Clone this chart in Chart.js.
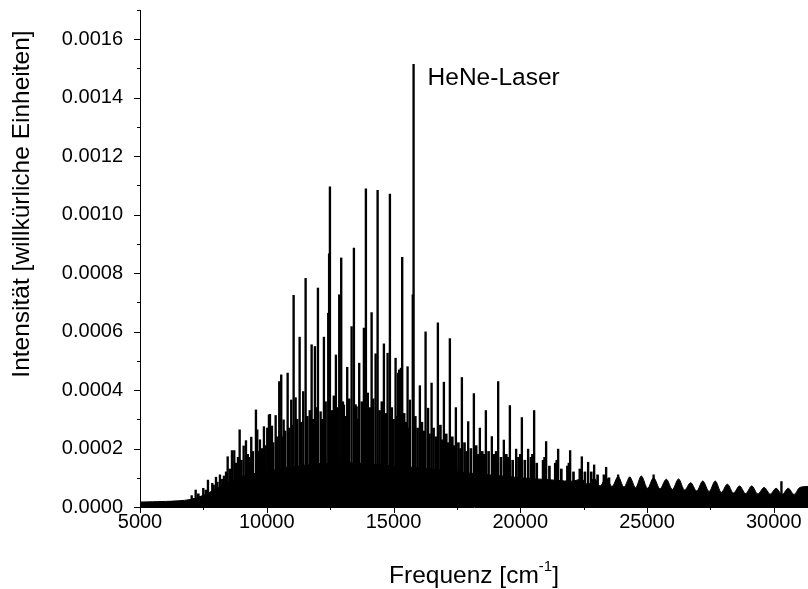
<!DOCTYPE html>
<html><head><meta charset="utf-8">
<script src="https://cdn.jsdelivr.net/npm/chart.js@4/dist/chart.umd.min.js"></script>
<style>html,body{margin:0;padding:0;background:#fff}</style>
</head><body>
<canvas id="c" width="808" height="589"></canvas>
<script>
// ---- Data ----
// Continuum (top edge of the solid black region), wavenumber in cm^-1
const baseX = [5000,5500,6000,6500,7000,7500,8000,8500,9000,9500,10000,10500,11000,11500,12000,12500,13000,13500,14000,14500,15000,15500,16000,16500,17000,17500,18000,18500,19000,19500,20000,20500,21000,21500,22000,22428,22670,22914,23150,23387,23620,23860,24090,24320,24550,24775,25020,25260,25510,25760,26000,26245,26480,26720,26960,27200,27450,27690,27930,28170,28410,28650,28890,29130,29370,29620,29860,30090,30330,30570,30800,31030,31350];
const baseY = [0.000017,0.000018,0.000019,0.000021,0.000026,0.000040,0.000062,0.000086,0.000104,0.000114,0.000121,0.000130,0.000138,0.000143,0.000148,0.000150,0.000152,0.000150,0.000148,0.000145,0.000140,0.000137,0.000134,0.000130,0.000125,0.000120,0.000116,0.000112,0.000108,0.000104,0.000100,0.000097,0.000094,0.000091,0.000088,0.000095,0.000076,0.000098,0.000072,0.000100,0.000070,0.000104,0.000068,0.000102,0.000066,0.000106,0.000064,0.000100,0.000062,0.000095,0.000060,0.000096,0.000058,0.000083,0.000055,0.000089,0.000053,0.000089,0.000050,0.000078,0.000048,0.000072,0.000046,0.000072,0.000045,0.000067,0.000044,0.000064,0.000043,0.000064,0.000043,0.000067,0.000070];

// Distinct spectral lines (position, height)
const lineX = [7039,7196,7496,7681,7851,7997,8154,8312,8458,8628,8718,8931,9089,9180,9389,9574,9625,9732,9889,10020,10086,10126,10205,10351,10493,10571,10666,10824,10966,11060,11139,11297,11439,11533,11770,11900,12019,12125,12255,12425,12460,12492,12728,12859,12937,13044,13174,13347,13438,13545,13647,13832,13911,14136,14294,14373,14621,14767,14858,15082,15185,15224,15291,15343,15555,15646,15760,15792,16040,16265,16364,16502,16750,16987,17223,17460,17697,17945,18170,18406,18643,18879,19128,19352,19590,19837,20063,20310,20547,21020,21494,21967,22428,22677,22914,23387,23860,24320,25260,30302];
const lineY = [0.000039,0.000058,0.000064,0.000092,0.000081,0.000102,0.000110,0.000106,0.000172,0.000193,0.000193,0.000264,0.000209,0.000227,0.000239,0.000332,0.000264,0.000230,0.000275,0.000270,0.000315,0.000317,0.000277,0.000313,0.000429,0.000452,0.000298,0.000458,0.000366,0.000724,0.000374,0.000581,0.000395,0.000782,0.000555,0.000549,0.000749,0.000326,0.000581,0.000663,0.000866,0.001095,0.000520,0.000726,0.000852,0.000349,0.000478,0.000617,0.000886,0.000343,0.000492,0.000612,0.001088,0.000665,0.000524,0.001083,0.000558,0.000526,0.001070,0.000509,0.000458,0.000469,0.000475,0.000854,0.000480,0.000366,0.000726,0.001514,0.000415,0.000599,0.000338,0.000424,0.000630,0.000427,0.000576,0.000340,0.000443,0.000292,0.000388,0.000270,0.000330,0.000241,0.000429,0.000229,0.000347,0.000198,0.000306,0.000198,0.000330,0.000224,0.000198,0.000193,0.000172,0.000153,0.000144,0.000136,0.000110,0.000102,0.000110,0.000087];

// Dense weaker lines filling the band between continuum and strong lines
const texX = [7300,7600,7900,8050,8250,8400,8550,8800,8870,9000,9250,9320,9450,9700,9800,9950,10180,10250,10420,10620,10720,10880,11000,11200,11360,11600,11700,11830,11960,12180,12320,12560,12650,12790,13000,13110,13250,13500,13600,13750,13980,14060,14200,14450,14540,14700,14930,15000,15150,15420,15480,15620,15860,15950,16120,16200,16420,16580,16680,16850,16920,17080,17150,17320,17400,17560,17640,17800,17880,18050,18260,18330,18500,18580,18750,18960,19050,19240,19450,19520,19700,19930,20000,20180,20420,20480,20650,20900,20960,21150,21380,21440,21620,21860,21920,22100,22350,22550,22800,23050,23300,23500];
const texY = [0.000045,0.000058,0.000075,0.000085,0.000095,0.00012,0.00013,0.00015,0.00017,0.00016,0.00018,0.00017,0.00019,0.00019,0.0002,0.00021,0.00021,0.00022,0.00024,0.00024,0.00026,0.00027,0.00028,0.0003,0.00029,0.00031,0.00033,0.0003,0.00034,0.0003,0.00036,0.00033,0.00038,0.00034,0.00036,0.00031,0.00037,0.00035,0.0003,0.00036,0.00039,0.00034,0.00037,0.00033,0.00036,0.00032,0.00034,0.0003,0.00031,0.00032,0.00029,0.00027,0.00031,0.00027,0.00029,0.00026,0.00025,0.00027,0.00024,0.00028,0.00023,0.00025,0.00022,0.00024,0.00021,0.00022,0.0002,0.00022,0.00019,0.0002,0.00021,0.00018,0.00019,0.00018,0.00019,0.00018,0.00019,0.00017,0.00018,0.00017,0.00016,0.00017,0.00018,0.00016,0.00017,0.00018,0.00015,0.00016,0.00017,0.00014,0.00015,0.00016,0.00013,0.00014,0.00015,0.00012,0.00013,0.00012,0.00012,0.00011,0.00011,0.0001];

// Axis ranges and tick labels
const xMin = 5000, xMax = 31350;
const xTickValues = [5000,10000,15000,20000,25000,30000];
const xMinorValues = [7500,12500,17500,22500,27500];
const yMin = 0, yMax = 0.0017;
const yTickValues = [0.0000,0.0002,0.0004,0.0006,0.0008,0.0010,0.0012,0.0014,0.0016];
const yMinorValues = [0.0001,0.0003,0.0005,0.0007,0.0009,0.0011,0.0013,0.0015,0.0017];
const annotation = {text: 'HeNe-Laser', x: 15792};
const xTitle = ['Frequenz [cm', '-1', ']'];
const yTitle = 'Intensität [willkürliche Einheiten]';

// ---- Chart ----
const FONT = '"Liberation Sans", Arial, Helvetica, sans-serif';
const pts = (xs, ys) => xs.map((v, i) => ({x: v, y: ys[i]}));

const decor = {
  id: 'decor',
  afterDraw(chart) {
    const {ctx, scales: {x, y}, chartArea: a} = chart;
    ctx.save();
    ctx.strokeStyle = '#000';
    ctx.lineWidth = 1;
    const xt = (v, len) => { const px = Math.round(x.getPixelForValue(v)) + 0.5; ctx.beginPath(); ctx.moveTo(px, a.bottom); ctx.lineTo(px, a.bottom + len); ctx.stroke(); };
    const yt = (v, len) => { const py = Math.round(y.getPixelForValue(v)) + 0.5; ctx.beginPath(); ctx.moveTo(a.left, py); ctx.lineTo(a.left - len, py); ctx.stroke(); };
    xTickValues.forEach(v => xt(v, 6));
    xMinorValues.forEach(v => xt(v, 3));
    yTickValues.forEach(v => yt(v, 6));
    yMinorValues.forEach(v => yt(v, 3));
    ctx.fillStyle = '#000';
    const big = '24.5px ' + FONT, small = '15px ' + FONT;
    // annotation
    ctx.font = big;
    ctx.textAlign = 'left';
    ctx.textBaseline = 'alphabetic';
    ctx.fillText(annotation.text, x.getPixelForValue(annotation.x) + 14, 85);
    // x title with superscript
    ctx.font = big; const w1 = ctx.measureText(xTitle[0]).width; const w3 = ctx.measureText(xTitle[2]).width;
    ctx.font = small; const w2 = ctx.measureText(xTitle[1]).width;
    let sx = (a.left + a.right) / 2 - (w1 + w2 + w3) / 2;
    const by = 583;
    ctx.font = big; ctx.fillText(xTitle[0], sx, by); sx += w1;
    ctx.font = small; ctx.fillText(xTitle[1], sx, by - 12); sx += w2;
    ctx.font = big; ctx.fillText(xTitle[2], sx, by);
    // y title
    ctx.translate(22, 204);
    ctx.rotate(-Math.PI / 2);
    ctx.font = big;
    ctx.textAlign = 'center';
    ctx.textBaseline = 'middle';
    ctx.fillText(yTitle, 0, 0);
    ctx.restore();
  }
};

new Chart(document.getElementById('c'), {
  type: 'line',
  data: {
    datasets: [
      {type: 'bar', label: 'Linien', data: pts(lineX, lineY), backgroundColor: '#000', borderWidth: 0, barThickness: 1.7, grouped: false, order: 1},
      {type: 'bar', label: 'Struktur', data: pts(texX, texY), backgroundColor: '#000', borderWidth: 0, barThickness: 2, grouped: false, order: 2},
      {type: 'line', label: 'Kontinuum', data: pts(baseX, baseY), borderColor: '#000', borderWidth: 1, backgroundColor: '#000', fill: 'origin', pointRadius: 0, cubicInterpolationMode: 'monotone', order: 3}
    ]
  },
  options: {
    responsive: false,
    animation: false,
    devicePixelRatio: 1,
    layout: {padding: {top: 10, right: 0, left: 0, bottom: 0}},
    plugins: {legend: {display: false}, tooltip: {enabled: false}},
    scales: {
      x: {
        type: 'linear', min: xMin, max: xMax, offset: false,
        afterBuildTicks: s => { s.ticks = xTickValues.map(v => ({value: v})); },
        afterFit: s => { s.height = 82; s.paddingLeft = 0; s.paddingRight = 0; },
        ticks: {autoSkip: false, maxRotation: 0, padding: 3, color: '#000', font: {family: FONT, size: 20},
          callback: v => String(v)},
        grid: {display: true, drawOnChartArea: false, drawTicks: false},
        border: {display: true, color: '#000', width: 1}
      },
      y: {
        type: 'linear', min: yMin, max: yMax,
        afterBuildTicks: s => { s.ticks = yTickValues.map(v => ({value: v})); },
        afterFit: s => { s.width = 140; s.paddingTop = 0; s.paddingBottom = 0; },
        ticks: {autoSkip: false, padding: 17, color: '#000', font: {family: FONT, size: 20},
          callback: v => v.toFixed(4)},
        grid: {display: true, drawOnChartArea: false, drawTicks: false},
        border: {display: true, color: '#000', width: 1}
      }
    }
  },
  plugins: [decor]
});
</script>
</body></html>
